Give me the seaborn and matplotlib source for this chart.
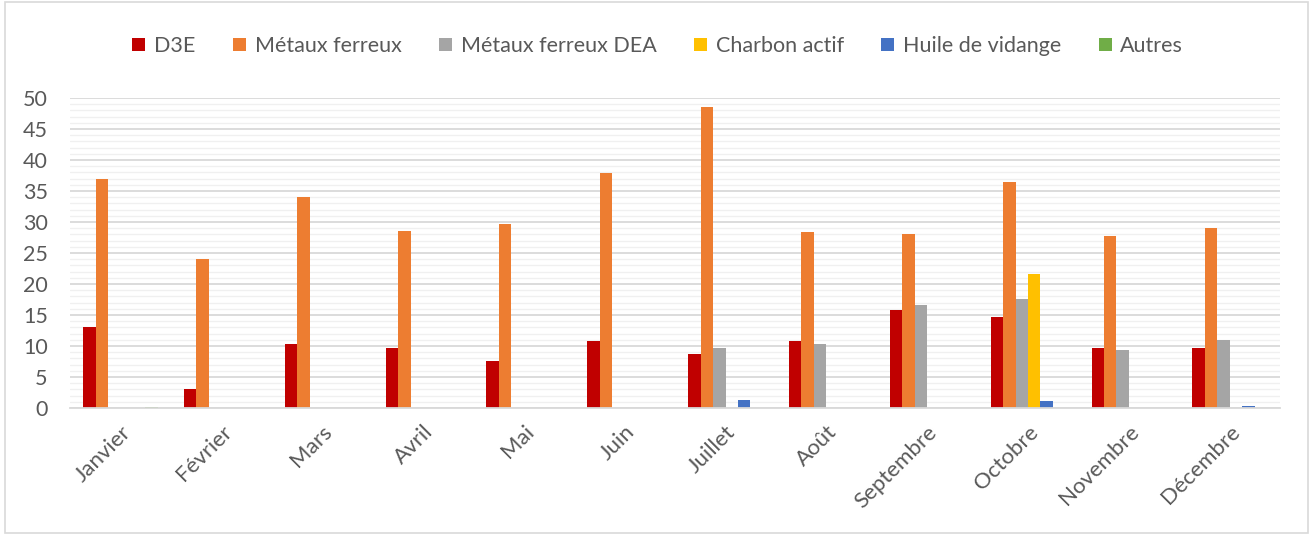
import pandas as pd
import matplotlib.pyplot as plt
import seaborn as sns
from matplotlib.patches import Rectangle
from matplotlib.ticker import MultipleLocator

#%% Data
mois = ["Janvier", "Février", "Mars", "Avril", "Mai", "Juin",
        "Juillet", "Août", "Septembre", "Octobre", "Novembre", "Décembre"]

d3e = [13.1, 3.1, 10.4, 9.6, 7.6, 10.8, 8.7, 10.8, 15.8, 14.6, 9.7, 9.7]
metaux = [37.0, 24.0, 34.0, 28.5, 29.7, 37.9, 48.6, 28.4, 28.0, 36.5, 27.8, 29.0]
metaux_dea = [0, 0, 0, 0, 0, 0, 9.7, 10.3, 16.6, 17.6, 9.4, 11.0]
charbon = [0, 0, 0, 0, 0, 0, 0, 0, 0, 21.6, 0, 0]
huile = [0, 0, 0, 0, 0, 0, 1.3, 0, 0, 1.1, 0, 0.3]
autres = [0.1, 0, 0, 0, 0, 0, 0, 0, 0, 0, 0, 0]

series_names = ["D3E", "Métaux ferreux", "Métaux ferreux DEA",
                "Charbon actif", "Huile de vidange", "Autres"]
series_colors = ["#C00000", "#ED7D31", "#A5A5A5", "#FFC000", "#4472C4", "#70AD47"]

# long form for seaborn
df = pd.DataFrame({"Mois": mois, "D3E": d3e, "Métaux ferreux": metaux,
                   "Métaux ferreux DEA": metaux_dea, "Charbon actif": charbon,
                   "Huile de vidange": huile, "Autres": autres})
df_long = df.melt(id_vars="Mois", var_name="Type", value_name="Valeur")

#%% Plot
sns.set_style("white")
plt.rcParams['font.family'] = ['Lato', 'DejaVu Sans']

fig = plt.figure(figsize=(13.13, 5.35), dpi=100)
ax = fig.add_axes([0.0533, 0.2374, 0.9217, 0.5794])

sns.barplot(data=df_long, x="Mois", y="Valeur", hue="Type",
            order=mois, hue_order=series_names,
            palette=series_colors, saturation=1, width=0.74,
            linewidth=0, errorbar=None, ax=ax)

ax.set_ylim(0, 50)
ax.set_xlim(-0.5, len(mois) - 0.5)
ax.yaxis.set_major_locator(MultipleLocator(5))
ax.yaxis.set_minor_locator(MultipleLocator(1))
ax.grid(which="major", axis="y", color="#D9D9D9", linewidth=1.3)
ax.grid(which="minor", axis="y", color="#F0F0F0", linewidth=1.0)
ax.set_axisbelow(True)

for s in ["top", "right", "left"]:
    ax.spines[s].set_visible(False)
ax.spines["bottom"].set_color("#D9D9D9")
ax.spines["bottom"].set_linewidth(1.3)

ax.set_xlabel("")
ax.set_ylabel("")
ax.tick_params(axis="both", which="both", length=0, colors="#595959")
ax.tick_params(axis="y", labelsize=15.5, pad=16)
ax.tick_params(axis="x", labelsize=16, pad=10)
plt.setp(ax.get_xticklabels(), rotation=45, ha="right", rotation_mode="anchor")

# legend on top, horizontal
ax.legend_.remove()
handles, labels = ax.get_legend_handles_labels()
fig.legend(handles, labels, loc="center", bbox_to_anchor=(0.501, 0.914),
           ncol=6, frameon=False, fontsize=15.5, handlelength=0.6, handleheight=0.6,
           handletextpad=0.4, columnspacing=1.75, labelcolor="#595959")

# light chart-area border
fig.patches.append(Rectangle((0.004, 0.004), 0.992, 0.992, transform=fig.transFigure,
                             fill=False, edgecolor="#D9D9D9", linewidth=1.2))

fig.savefig("out.png", dpi=100)
